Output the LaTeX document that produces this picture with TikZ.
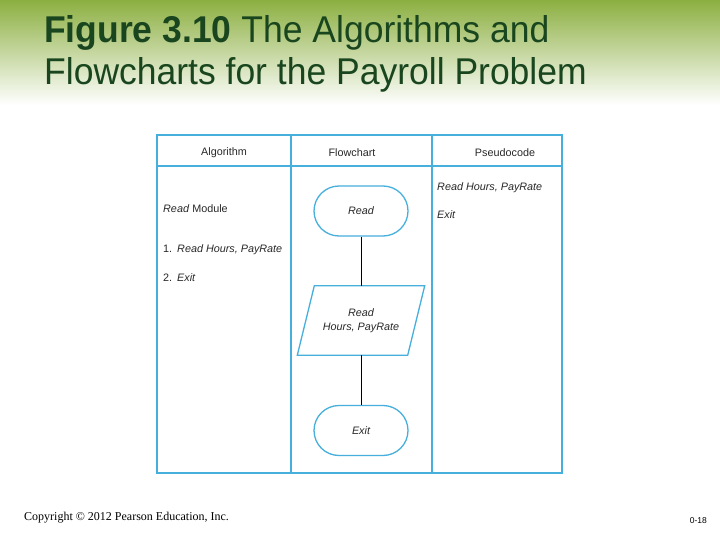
\documentclass[tikz,border=0pt]{standalone}
\usepackage{fontspec}
\setmainfont{Liberation Sans}
\newfontfamily\timesf{Liberation Serif}
\usetikzlibrary{shapes.misc}
\definecolor{tblue}{RGB}{70,175,220}
\definecolor{tgreen}{RGB}{25,70,30}
\definecolor{bggreen}{RGB}{140,175,65}
\definecolor{txt}{RGB}{40,40,40}
\tikzset{
  grid/.style={draw=tblue, line width=2pt},
  shapeline/.style={draw=tblue, line width=1.3pt},
  term/.style={rounded rectangle, shapeline, minimum width=94pt, minimum height=50pt, inner sep=0pt, font=\fontsize{10.8}{12}\selectfont\itshape, text=txt},
  lbl/.style={font=\fontsize{10.8}{12}\selectfont, text=txt, inner sep=0pt},
  ttl/.style={anchor=west, inner sep=0pt, text=tgreen, font=\fontsize{35.5}{40}\selectfont, yscale=1.05},
  conn/.style={draw=black, line width=0.6pt}
}
\begin{document}
\begin{tikzpicture}[x=1pt,y=-1pt]
\useasboundingbox (0,0) rectangle (720,540);
\fill[white] (0,0) rectangle (720,540);
\shade[top color=bggreen, bottom color=white] (0,0) rectangle (720,105);
% title
\node[ttl] (t1) at (44,33) {\textbf{Figure 3.10} The Algorithms and};
\node[ttl] (t2) at (44,75) {Flowcharts for the Payroll Problem};
% table
\draw[grid] (157,135) rectangle (562,473);
\draw[grid] (157,166) -- (562,166);
\draw[grid] (291,135) -- (291,473);
\draw[grid] (432,135) -- (432,473);
\node[lbl] (h1) at (224,153) {Algorithm};
\node[lbl] (h2) at (352,153) {Flowchart};
\node[lbl] (h3) at (505,153) {Pseudocode};
% algorithm column
\node[lbl, anchor=west] (a0) at (163,209) {\textit{Read} Module};
\node[lbl, anchor=west] (a1) at (163,250) {1.\hspace{5pt}\textit{Read Hours, PayRate}};
\node[lbl, anchor=west] (a2) at (163,278) {2.\hspace{5pt}\textit{Exit}};
% pseudocode column
\node[lbl, anchor=west] (p1) at (437,188) {\textit{Read Hours, PayRate}};
\node[lbl, anchor=west] (p2) at (437,215) {\textit{Exit}};
% flowchart
\node[term] (read) at (361,211) {Read};
\node[minimum width=110pt, minimum height=69pt, inner sep=0pt, align=center, font=\fontsize{10.8}{14}\selectfont\itshape, text=txt] (io) at (361,320.5) {Read\\Hours, PayRate};
\draw[shapeline] ([xshift=8.5pt]io.north west) -- ([xshift=8.5pt]io.north east) -- ([xshift=-8.5pt]io.south east) -- ([xshift=-8.5pt]io.south west) -- cycle;
\node[term] (exit) at (361,430.5) {Exit};
\draw[conn] (read.south) -- (io.north);
\draw[conn] (io.south) -- (exit.north);
% footer
\node[anchor=west, inner sep=0pt, font=\timesf\fontsize{12}{14}\selectfont, text=black] (copy) at (24,518) {Copyright © 2012 Pearson Education, Inc.};
\node[anchor=east, inner sep=0pt, font=\fontsize{8.5}{10}\selectfont, text=black] (pg) at (707,521) {0-18};
\end{tikzpicture}
\end{document}
